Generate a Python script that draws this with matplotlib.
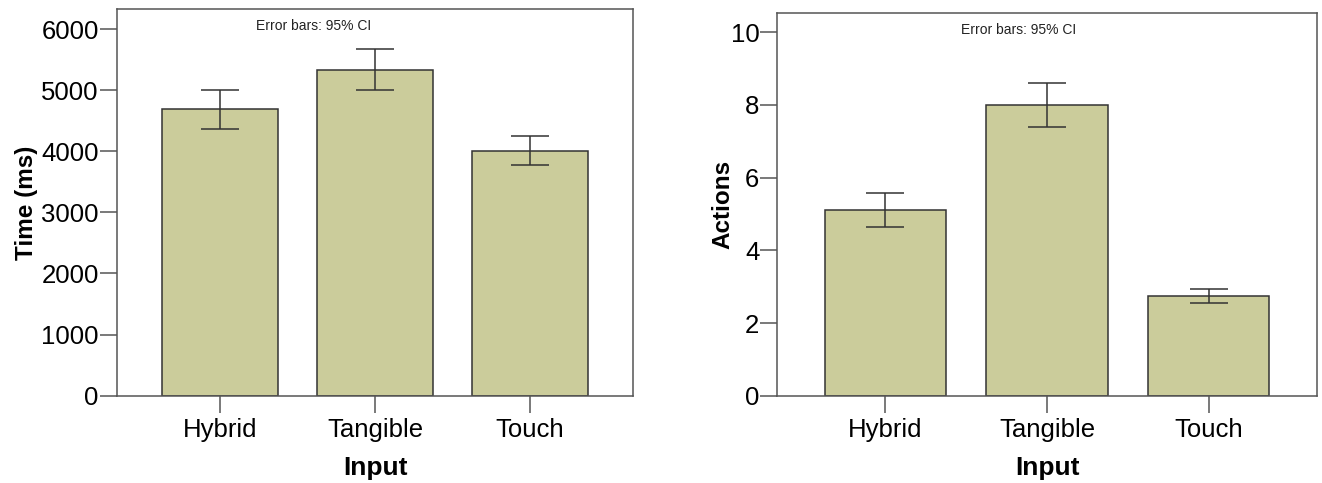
import matplotlib
matplotlib.use("Agg")
import matplotlib.pyplot as plt

plt.rcParams["font.family"] = ["Liberation Sans", "DejaVu Sans"]

inputs = ["Hybrid", "Tangible", "Touch"]

time_mean = [4687, 5335, 4010]
time_ci_low = [4370, 4998, 3771]
time_ci_high = [4998, 5674, 4255]

actions_mean = [5.11, 8.01, 2.74]
actions_ci_low = [4.63, 7.40, 2.54]
actions_ci_high = [5.59, 8.61, 2.94]

BAR_COLOR = "#cbcc9b"
EDGE = "#333333"
FRAME = "#555555"


def draw_panel(ax, means, lows, highs, ylabel, yticks, ytop, ylabel_x, note_x):
    x = list(range(len(inputs)))
    ax.bar(x, means, width=0.75, color=BAR_COLOR, edgecolor=EDGE, linewidth=1.1, zorder=2)
    yerr = [[m - lo for m, lo in zip(means, lows)], [hi - m for m, hi in zip(means, highs)]]
    ax.errorbar(x, means, yerr=yerr, fmt="none", ecolor=EDGE, elinewidth=1.1,
                capsize=13.7, capthick=1.1, zorder=3)
    ax.set_xlim(-0.667, 2.667)
    ax.set_ylim(0, ytop)
    ax.set_yticks(yticks)
    ax.set_xticks(x)
    ax.set_xticklabels(inputs)
    ax.tick_params(axis="both", direction="out", length=12, width=1.1, color=FRAME,
                   labelsize=18.5)
    ax.tick_params(axis="y", pad=1)
    ax.tick_params(axis="x", pad=4)
    for s in ax.spines.values():
        s.set_color(FRAME)
        s.set_linewidth(1.1)
    ax.set_ylabel(ylabel, fontsize=17.5, fontweight="bold")
    ax.yaxis.set_label_coords(ylabel_x, 0.5)
    ax.set_xlabel("Input", fontsize=19, fontweight="bold")
    ax.xaxis.set_label_coords(0.5, -0.188)
    ax.xaxis.label.set_va("center")
    ax.yaxis.label.set_va("center")
    ax.text(note_x, 0.957, "Error bars: 95% CI", transform=ax.transAxes,
            ha="center", va="center", fontsize=10, color="#222222")


fig = plt.figure(figsize=(13.22, 4.83), dpi=100)
ax1 = fig.add_axes([0.0883, 0.1807, 0.3908, 0.80])
ax2 = fig.add_axes([0.588, 0.1807, 0.408, 0.7917])

draw_panel(ax1, time_mean, time_ci_low, time_ci_high, "Time (ms)",
           [0, 1000, 2000, 3000, 4000, 5000, 6000], 6322, -0.174, 0.382)
draw_panel(ax2, actions_mean, actions_ci_low, actions_ci_high, "Actions",
           [0, 2, 4, 6, 8, 10], 10.52, -0.1007, 0.448)

fig.savefig("out.png", dpi=100)
